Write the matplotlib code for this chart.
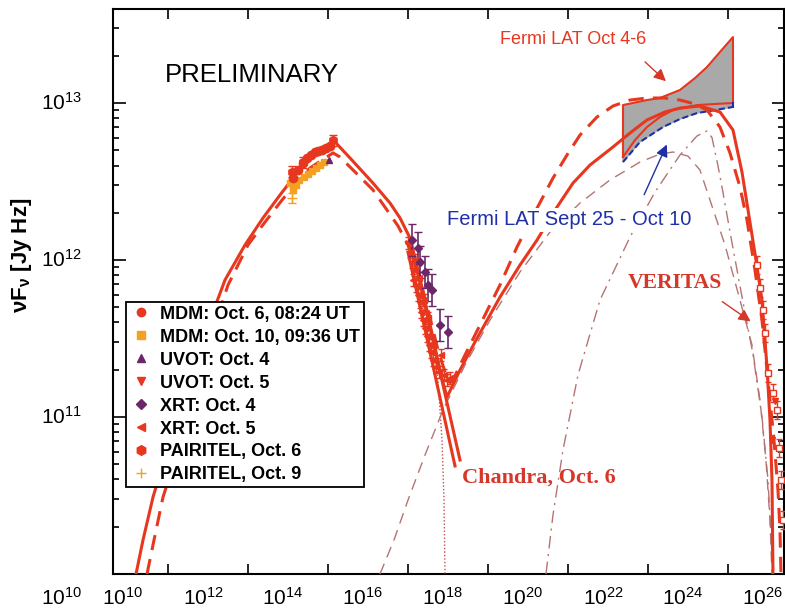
#SED of the October 2008 flare, multiwavelength data + model curves
import numpy as np
import matplotlib.pyplot as plt
from matplotlib.lines import Line2D
from matplotlib.ticker import FixedLocator, NullLocator, NullFormatter

plt.rcParams['font.family'] = ['Liberation Sans', 'DejaVu Sans']
plt.rcParams['mathtext.fontset'] = 'custom'
plt.rcParams['mathtext.rm'] = 'Liberation Sans'
plt.rcParams['mathtext.it'] = 'Liberation Sans:italic'
plt.rcParams['mathtext.bf'] = 'Liberation Sans:bold'

# all values are log10(nu / Hz) and log10(nuFnu / Jy Hz)
#==============================================================================================================
# model: total, Oct 6 (solid)
solid_x = [10.325, 10.5, 10.75, 11.175, 11.675, 12.175, 12.55, 13.05, 13.5, 13.925, 14.25, 14.6, 14.925, 15.3,
           15.675, 16.25, 16.675, 16.925, 17.175, 17.325, 17.5, 17.75, 17.95, 18.1,
           18.425, 18.8, 19.425, 19.925, 20.35, 20.8, 21.25, 21.675, 22.25, 22.675, 23.1, 23.55, 23.925, 24.425,
           24.925, 25.25, 25.475, 25.675, 25.825, 25.975, 26.1, 26.175, 26.225, 26.25]
solid_y = [10.0, 10.217, 10.49, 10.854, 11.236, 11.618, 11.873, 12.096, 12.268, 12.414, 12.522, 12.65, 12.713, 12.752,
           12.65, 12.49, 12.363, 12.268, 12.14, 11.987, 11.796, 11.503, 11.268, 11.127,
           11.299, 11.478, 11.764, 11.968, 12.127, 12.318, 12.49, 12.605, 12.72, 12.809, 12.892, 12.943, 12.968, 12.981,
           12.943, 12.828, 12.56, 12.24, 12.0, 11.745, 11.318, 10.981, 10.599, 10.0]
# model: total, other epoch (thick dashed)
dash_x = [10.6, 10.775, 11.0, 11.375, 11.825, 12.25, 12.625, 13.125, 13.55, 13.975, 14.3, 14.675, 14.975, 15.25,
          15.425, 15.8, 16.25, 16.6, 16.875, 17.125, 17.375, 17.625, 17.875, 18.075, 18.225,
          18.55, 19.05, 19.425, 19.85, 20.3, 20.75, 21.1, 21.425, 21.85, 22.25, 22.675, 23.1, 23.55, 23.925, 24.3,
          24.6, 24.925, 25.175, 25.425, 25.6, 25.8, 25.975, 26.125, 26.275, 26.375, 26.425, 26.45]
dash_y = [10.0, 10.217, 10.49, 10.79, 11.172, 11.554, 11.841, 12.096, 12.242, 12.382, 12.478, 12.586, 12.637, 12.682,
          12.656, 12.561, 12.446, 12.318, 12.217, 12.096, 11.924, 11.682, 11.427, 11.268, 11.223,
          11.395, 11.65, 11.841, 12.083, 12.306, 12.522, 12.669, 12.796, 12.911, 12.981, 13.019, 13.032, 13.032, 13.019, 12.994,
          12.955, 12.847, 12.682, 12.465, 12.255, 11.936, 11.618, 11.236, 10.854, 10.535, 10.28, 10.0]
# components: synchrotron (dotted), SSC (thin dashed), EC (thin dash-dot)
sync_x = [17.325, 17.5, 17.75, 17.875, 17.975, 18.025, 18.05]
sync_y = [11.987, 11.796, 11.503, 11.236, 10.854, 10.471, 10.0]
ssc_x = [16.425, 16.775, 17.125, 17.55, 18.0, 18.55, 19.175, 19.925, 20.675, 21.425, 22.175, 22.925, 23.425, 23.75,
         24.125, 24.425, 24.675, 25.05, 25.425, 25.725, 25.925, 26.075, 26.175, 26.225]
ssc_y = [10.0, 10.217, 10.471, 10.758, 11.045, 11.331, 11.618, 11.924, 12.178, 12.363, 12.51, 12.624, 12.675, 12.688,
         12.662, 12.573, 12.382, 12.096, 11.745, 11.459, 11.108, 10.726, 10.344, 10.0]
ec_x = [20.575, 20.75, 21.0, 21.375, 21.925, 22.675, 23.3, 23.925, 24.35, 24.6, 24.725, 24.875, 25.0, 25.175,
        25.45, 25.75, 25.975, 26.125, 26.25]
ec_y = [10.0, 10.376, 10.79, 11.268, 11.745, 12.146, 12.433, 12.669, 12.79, 12.822, 12.78, 12.6, 12.43, 12.18,
        11.8, 11.4, 11.0, 10.6, 10.0]
# Chandra bow tie
chandra_x1 = [17.225, 18.425]
chandra_y1 = [12.076, 10.726]
chandra_x2 = [17.125, 18.3]
chandra_y2 = [12.05, 10.688]
# Fermi LAT butterflies
lat_top_x = [22.5, 23.1, 23.425, 23.925, 24.3, 24.6, 24.925, 25.25]
lat_top_y = [12.987, 13.019, 13.032, 13.083, 13.159, 13.229, 13.325, 13.42]
lat_low_x = [25.25, 24.8, 24.35, 23.75, 23.425, 23.1, 22.8, 22.5]
lat_low_y = [13.0, 12.994, 12.987, 12.955, 12.911, 12.847, 12.764, 12.656]
lat2_low_x = [22.5, 22.925, 23.5, 23.925, 24.35, 24.8, 25.25]
lat2_low_y = [12.624, 12.752, 12.847, 12.898, 12.936, 12.955, 12.975]
#==============================================================================================================
# data points
mdm6_x = [14.25, 14.375, 14.5, 14.6, 14.7, 14.8, 14.875, 14.975, 15.075, 15.175]
mdm6_y = [12.522, 12.573, 12.618, 12.65, 12.669, 12.688, 12.694, 12.701, 12.713, 12.726]
mdm10_x = [14.175, 14.25, 14.325, 14.4, 14.525, 14.625, 14.725, 14.825, 14.925, 15.025]
mdm10_y = [12.49, 12.446, 12.478, 12.51, 12.529, 12.548, 12.567, 12.586, 12.605, 12.624]
uvot4_x = [15.15]
uvot4_y = [12.637]
uvot5_x = [15.2]
uvot5_y = [12.72]
xrt4_x = [17.225, 17.375, 17.425, 17.55, 17.625, 17.725, 17.925, 18.125]
xrt4_y = [12.127, 12.076, 11.987, 11.924, 11.841, 11.809, 11.586, 11.541]
xrt5_x = [17.125, 17.175, 17.225, 17.275, 17.25, 17.325, 17.375, 17.425, 17.45, 17.5, 17.55, 17.6, 17.65,
          17.7, 17.75, 17.825, 17.9, 17.95, 18.025, 18.1, 18.175, 17.3, 17.4, 17.525, 17.625]
xrt5_y = [12.108, 12.051, 11.987, 11.936, 11.873, 11.834, 11.777, 11.732, 11.669, 11.618, 11.567, 11.516, 11.459,
          11.414, 11.363, 11.318, 11.287, 11.395, 11.268, 11.236, 11.248, 11.999, 11.885, 11.745, 11.631]
pair6_x = [14.225, 14.5, 15.25]
pair6_y = [12.561, 12.624, 12.764]
pair9_x = [14.225]
pair9_y = [12.395]
veritas_x = [25.85, 25.925, 26.0, 26.05, 26.125, 26.25, 26.35, 26.4, 26.45, 26.5]
veritas_y = [11.968, 11.822, 11.682, 11.535, 11.28, 11.153, 11.045, 10.803, 10.599, 10.344]
veritas_ul_x = [26.225, 26.3]
veritas_ul_y = [10.854, 11.1]

legend_labels = ['MDM: Oct. 6, 08:24 UT', 'MDM: Oct. 10, 09:36 UT', 'UVOT: Oct. 4', 'UVOT: Oct. 5',
                 'XRT: Oct. 4', 'XRT: Oct. 5', 'PAIRITEL, Oct. 6', 'PAIRITEL, Oct. 9']
x_label_exps = [10, 12, 14, 16, 18, 20, 22, 24, 26]
y_label_exps = [10, 11, 12, 13]
#==============================================================================================================
RED = '#e8371f'
ORANGE = '#f5a020'
PURPLE = '#6a2868'
BLUE = '#1f2fa8'
THIN = '#b47474'
DOT = '#c4504a'
LRED = '#d5382b'

def L(a):
    return 10**np.array(a)

def err(y, d):
    y = np.array(y)
    return [L(y) - L(y - d), L(y + d) - L(y)]

fig = plt.figure(figsize=(7.85, 6.08), dpi=100)
ax = fig.add_axes([0.1436, 0.0559, 0.8551, 0.9288])
ax.set_xscale('log'); ax.set_yscale('log')
ax.set_xlim(10**9.7425, 10**26.525)
ax.set_ylim(1e10, 10**13.597)

# Fermi band
ax.fill(np.concatenate([L(lat_top_x), L(lat2_low_x[::-1])]),
        np.concatenate([L(lat_top_y), L(lat2_low_y[::-1])]), color='#a9a9a9', zorder=1)
ax.plot(L([lat_low_x[-1]] + lat_top_x + lat_low_x), L([lat_low_y[-1]] + lat_top_y + lat_low_y),
        color=RED, lw=1.5, zorder=2)
ax.plot(L(lat2_low_x), L(lat2_low_y), color=BLUE, lw=1.5, ls=(0, (3, 1.5)), zorder=2)
ax.plot(L([lat2_low_x[-1], lat_low_x[0]]), L([lat2_low_y[-1], lat_low_y[0]]), color=BLUE, lw=1.5, zorder=2)

# components
ax.plot(L(sync_x), L(sync_y), color=DOT, lw=1, ls=(0, (1, 1.5)), zorder=3)
ax.plot(L(ssc_x), L(ssc_y), color=THIN, lw=1, ls=(0, (8, 5)), zorder=3)
ax.plot(L(ec_x), L(ec_y), color=THIN, lw=1, ls=(0, (9, 4, 1.5, 4)), zorder=3)

# total models
ax.plot(L(solid_x), L(solid_y), color=RED, lw=2.2, zorder=4)
ax.plot(L(dash_x), L(dash_y), color=RED, lw=2.2, ls=(0, (5, 3)), zorder=4)
ax.plot(L(chandra_x1), L(chandra_y1), color=RED, lw=2.2, zorder=4)
ax.plot(L(chandra_x2), L(chandra_y2), color=RED, lw=2.2, zorder=4)

# data
ax.errorbar(L(xrt5_x), L(xrt5_y), yerr=err(xrt5_y, 0.04), fmt='<', color=RED, ms=5, capsize=2, lw=1, zorder=5)
ax.errorbar(L(xrt4_x), L(xrt4_y), yerr=err(xrt4_y, 0.1), fmt='D', color=PURPLE, ms=4, capsize=3, lw=1.2, zorder=5)
ax.plot(L(mdm10_x), L(mdm10_y), 's', color=ORANGE, ms=5, zorder=5)
ax.plot(L(mdm6_x), L(mdm6_y), 'o', color=RED, ms=6, zorder=6)
ax.errorbar(L(pair6_x), L(pair6_y), yerr=err(pair6_y, 0.035), fmt='h', color=RED, ms=6, capsize=3, lw=1, zorder=6)
ax.errorbar(L(pair9_x), L(pair9_y), yerr=err(pair9_y, 0.03), fmt='+', color=ORANGE, ms=7, capsize=3, lw=1, zorder=6)
ax.plot(L(uvot4_x), L(uvot4_y), '^', color=PURPLE, ms=5, zorder=7)
ax.plot(L(uvot5_x), L(uvot5_y), 'v', color=RED, ms=5, zorder=7)
ax.errorbar(L(veritas_x), L(veritas_y), yerr=err(veritas_y, 0.06), fmt='s', mfc='white', mec=RED, color=RED,
            ms=5, capsize=2, lw=1, zorder=6)
ax.plot(L(veritas_ul_x), L(veritas_ul_y), 'v', color=RED, ms=5, zorder=6)

# axes / ticks
for s in ax.spines.values():
    s.set_linewidth(1.5)
ax.xaxis.set_major_locator(FixedLocator(L([11.125 + 2 * n for n in range(8)])))
ax.xaxis.set_minor_locator(NullLocator())
ax.xaxis.set_major_formatter(NullFormatter())
ax.yaxis.set_major_locator(FixedLocator(L(y_label_exps)))
ax.yaxis.set_minor_locator(FixedLocator([m * 10.0**e for e in [10, 11, 12, 13] for m in range(2, 10)]))
ax.yaxis.set_major_formatter(NullFormatter())
ax.yaxis.set_minor_formatter(NullFormatter())
ax.tick_params(which='both', direction='in', top=True, right=True, width=1.2)
ax.tick_params(axis='x', which='major', length=7)
ax.tick_params(axis='y', which='major', length=9)
ax.tick_params(axis='y', which='minor', length=4.5)

for e in x_label_exps:
    ax.text(10.0**e, -0.042, r'$10^{%d}$' % e, transform=ax.get_xaxis_transform(), ha='center', va='center', fontsize=15)
for e in y_label_exps:
    if e == 10:
        ax.text(-0.046, -0.042, r'$10^{%d}$' % e, transform=ax.transAxes, ha='right', va='center', fontsize=15)
    else:
        ax.text(-0.046, 10.0**e, r'$10^{%d}$' % e, transform=ax.get_yaxis_transform(), ha='right', va='center', fontsize=15)
fig.text(0.028, 0.58, 'νF' + r'$_{\mathregular{ν}}$' + ' [Jy Hz]', rotation=90, ha='center', va='center',
         fontsize=16, fontweight='bold')

# annotations
ax.text(0.078, 0.884, 'PRELIMINARY', transform=ax.transAxes, fontsize=18.5, va='center')
ax.text(0.577, 0.947, 'Fermi LAT Oct 4-6', transform=ax.transAxes, fontsize=13, color=RED, va='center')
ax.text(0.498, 0.627, 'Fermi LAT Sept 25 - Oct 10', transform=ax.transAxes, fontsize=14.5, color=BLUE, va='center',
        bbox=dict(fc='white', ec='none', pad=2), zorder=8)
ax.text(0.52, 0.17, 'Chandra, Oct. 6', transform=ax.transAxes, fontsize=16, color=LRED, va='center',
        family='Liberation Serif', fontweight='bold')
ax.text(0.768, 0.515, 'VERITAS', transform=ax.transAxes, fontsize=15.6, color=LRED, va='center',
        family='Liberation Serif', fontweight='bold')
ax.annotate('', xy=(10**23.625, 10**13.127), xytext=(10**23.0, 10**13.274),
            arrowprops=dict(arrowstyle='-|>', color=LRED, lw=1, mutation_scale=18))
ax.annotate('', xy=(10**23.625, 10**12.752), xytext=(10**23.0, 10**12.4),
            arrowprops=dict(arrowstyle='-|>', color=BLUE, lw=1, mutation_scale=18), zorder=9)
ax.annotate('', xy=(10**25.75, 10**11.599), xytext=(10**24.925, 10**11.745),
            arrowprops=dict(arrowstyle='-|>', color=LRED, lw=1, mutation_scale=18))

# legend
handles = [Line2D([], [], ls='none', marker='o', color=RED, ms=6),
           Line2D([], [], ls='none', marker='s', color=ORANGE, ms=6),
           Line2D([], [], ls='none', marker='^', color=PURPLE, ms=6),
           Line2D([], [], ls='none', marker='v', color=RED, ms=6),
           Line2D([], [], ls='none', marker='D', color=PURPLE, ms=5),
           Line2D([], [], ls='none', marker='<', color=RED, ms=6),
           Line2D([], [], ls='none', marker='h', color=RED, ms=7),
           Line2D([], [], ls='none', marker='+', color=ORANGE, ms=7)]
leg = ax.legend(handles, legend_labels, loc='lower left', bbox_to_anchor=(0.0198, 0.154), borderaxespad=0,
                prop={'weight': 'bold', 'size': 13}, handlelength=1.3, handletextpad=0.4, labelspacing=0.33,
                borderpad=0.2, fancybox=False, framealpha=1, edgecolor='black')
leg.get_frame().set_linewidth(1.3)
leg.set_zorder(10)

fig.savefig('out.png', dpi=100, facecolor='white')
